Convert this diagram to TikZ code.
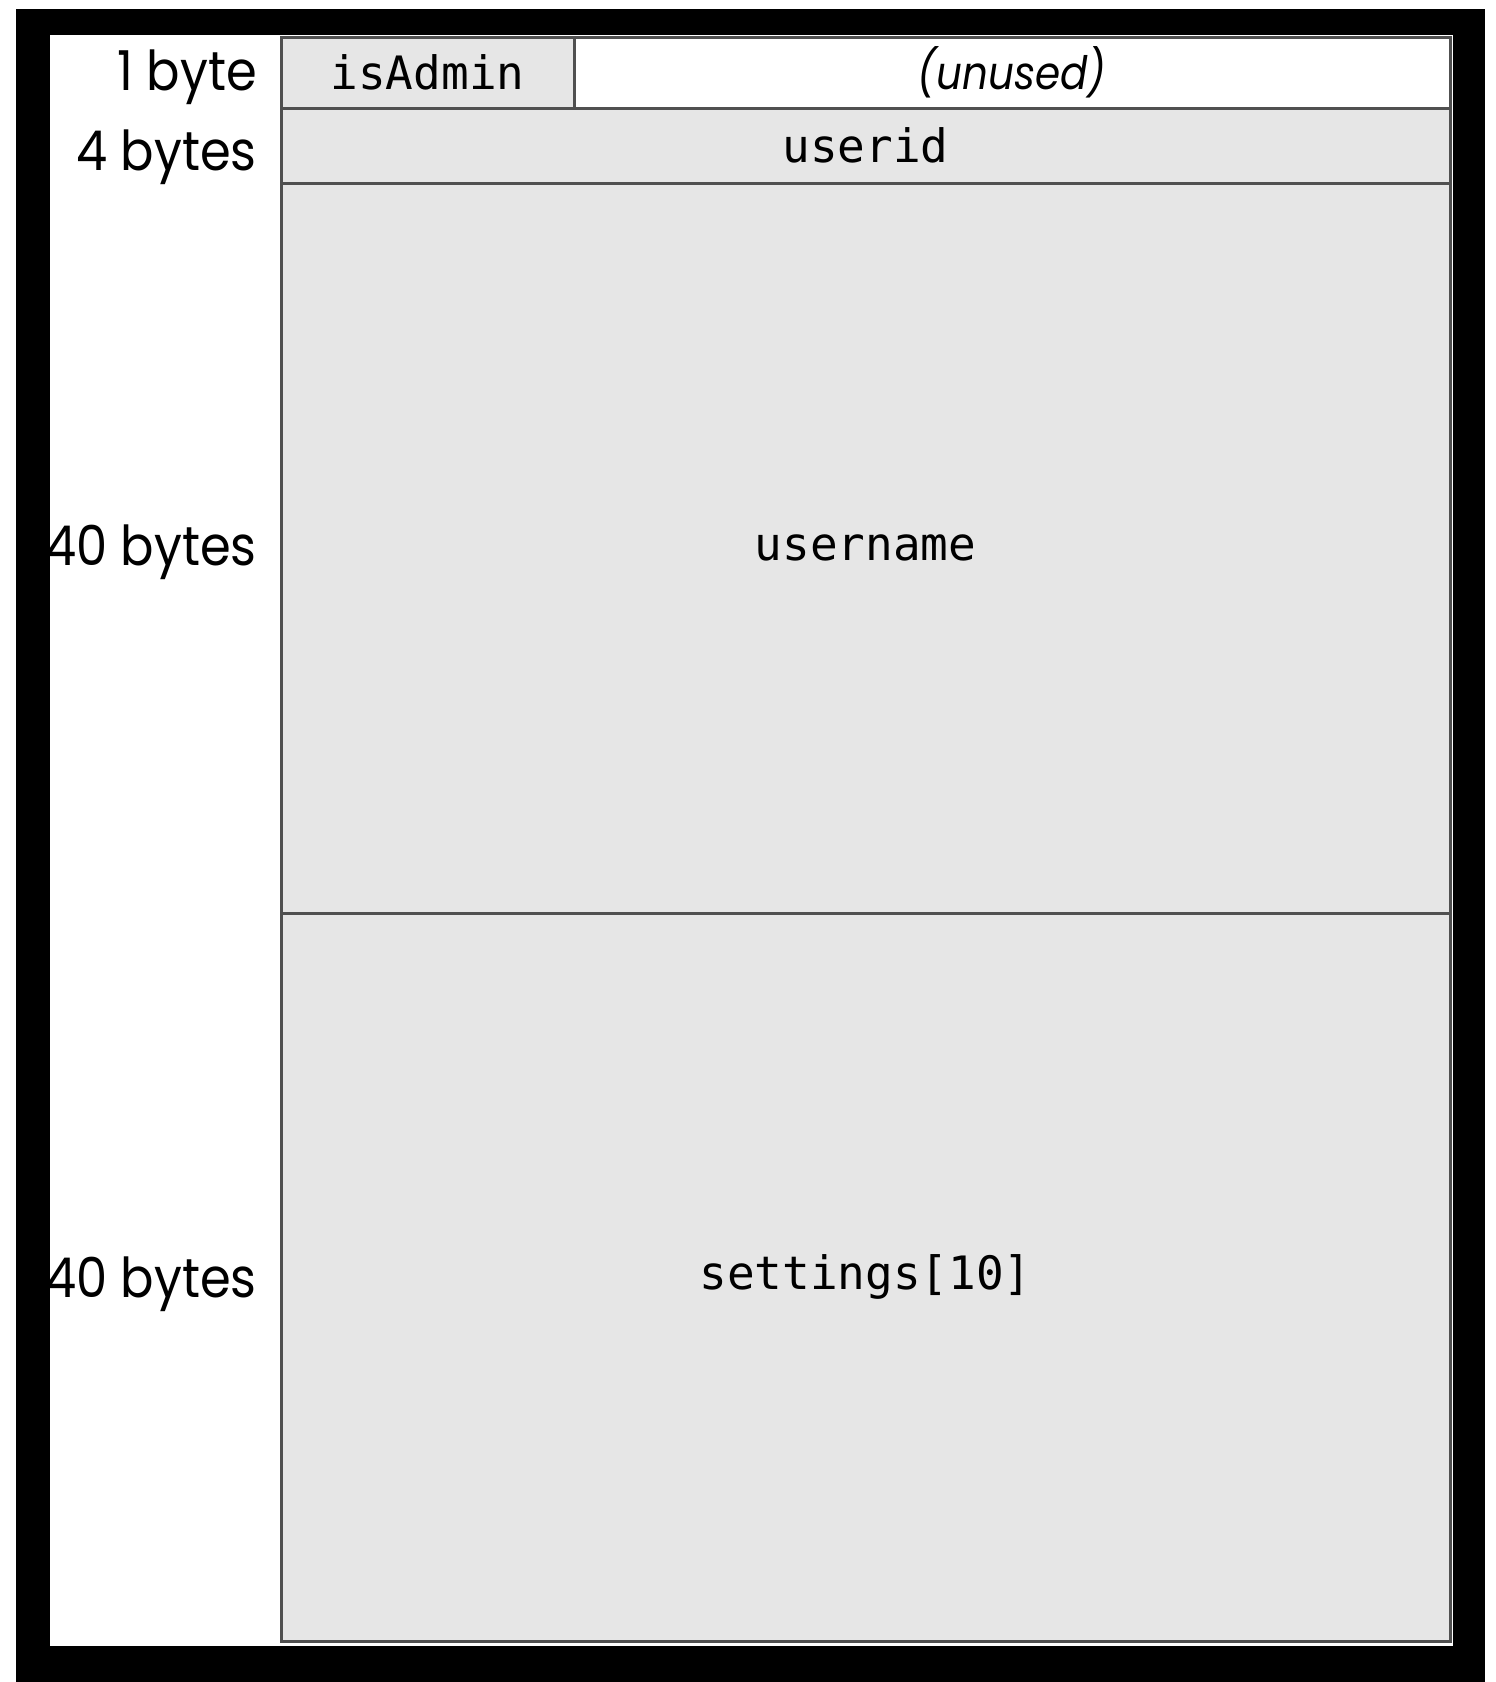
\documentclass[tikz,border=0pt]{standalone}
\usepackage{fontspec}
\setmainfont{Poppins}
\newfontfamily\monofam{DejaVu Sans Mono}
\definecolor{cellgray}{HTML}{E6E6E6}
\definecolor{linegray}{HTML}{505050}
\begin{document}
\begin{tikzpicture}[x=1pt,y=-1pt,
  cell/.style={draw=linegray, line width=3pt, fill=cellgray, inner sep=0pt,
    font=\monofam\fontsize{46}{50}\selectfont},
  sizelabel/.style={anchor=east, inner sep=0pt, font=\fontsize{55}{60}\selectfont}]
\useasboundingbox (0,0) rectangle (1496,1682);
% frame
\fill[black] (16,9) rectangle (1485,1682);
\fill[white] (50,35) rectangle (1453,1646);
% cells
\node[cell, minimum width=293pt, minimum height=71pt] (isadmin) at (427.5,72.5) {\raisebox{-3pt}{isAdmin}};
\node[cell, fill=white, minimum width=876pt, minimum height=71pt] (unused) at (1012,72.5)
  {\normalfont\itshape\fontsize{46}{50}\selectfont\scalebox{0.88}[1]{(unused)}};
\node[cell, minimum width=1169pt, minimum height=75pt] (userid) at (865.5,145.5) {\raisebox{-4pt}{userid}};
\node[cell, minimum width=1169pt, minimum height=730pt] (username) at (865.5,548) {\raisebox{-2pt}{username}};
\node[cell, minimum width=1169pt, minimum height=728pt] (settings) at (865.5,1277) {\raisebox{-4pt}{settings[10]}};
% size labels
\node[sizelabel] (l1) at (257,77) {\scalebox{0.9}[1]{1 byte}};
\node[sizelabel] (l2) at (257,157) {\scalebox{0.9}[1]{4 bytes}};
\node[sizelabel] (l3) at (257,552) {\scalebox{0.9}[1]{40 bytes}};
\node[sizelabel] (l4) at (257,1284) {\scalebox{0.9}[1]{40 bytes}};
\end{tikzpicture}
\end{document}
